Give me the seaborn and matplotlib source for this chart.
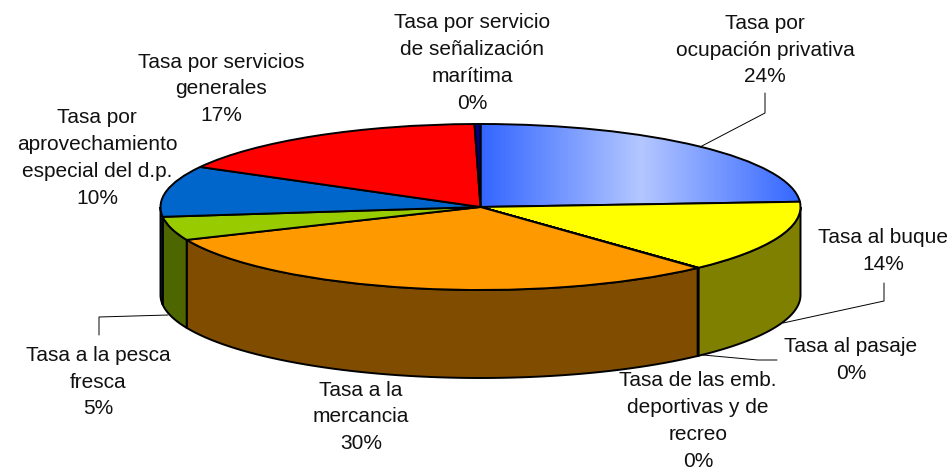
import numpy as np
import matplotlib
matplotlib.use("Agg")
import matplotlib.pyplot as plt
from matplotlib.colors import LinearSegmentedColormap, to_rgb
from matplotlib.patches import Polygon
import seaborn as sns

sns.set_theme(style="white")
plt.rcParams['font.family'] = ['Liberation Sans', 'DejaVu Sans']

# values (the 0% slices are thin but not empty)
labels = ["Tasa por\nocupación privativa", "Tasa al buque", "Tasa al pasaje",
          "Tasa de las emb.\ndeportivas y de\nrecreo", "Tasa a la\nmercancia",
          "Tasa a la pesca\nfresca", "Tasa por\naprovechamiento\nespecial del d.p.",
          "Tasa por servicios\ngenerales", "Tasa por servicio\nde señalización\nmarítima"]
values = [24.0, 14.1, 0.02, 0.03, 30.4, 4.6, 9.9, 16.7, 0.3]
percents = ["24%", "14%", "0%", "0%", "30%", "5%", "10%", "17%", "0%"]
colors = ["#3366FF", "#FFFF00", "#FFFFFF", "#000000", "#FF9900", "#99CC00", "#0066CC", "#FF0000", "#000080"]

# label centres and leader lines, in picture pixels
label_pos = [(765, 50), (883, 251), (851, 360), (698, 421), (361, 417), (98, 382), (97, 158), (221, 89), (472, 63)]
leaders = [[(700, 147), (765, 113), (765, 93)],
           [(783, 323), (884, 301), (884, 283)],
           [(703, 355), (758, 360), (777, 360)],
           [(168, 315), (99, 317), (99, 335)]]

W, H = 952, 470
cx, cy, rx, ry = 480.5, 207, 320, 83
depth = 88 / ry

fig = plt.figure(figsize=(W / 100, H / 100), dpi=100)
ax = fig.add_axes([0, 0, 1, 1])
wedges, _ = ax.pie(values, colors=sns.color_palette(colors), startangle=90, counterclock=False,
                   wedgeprops=dict(edgecolor="black", linewidth=1.4))
ax.set_aspect("auto")
xlim = (-cx / rx, (W - cx) / rx)
ylim = (-(H - cy) / ry, cy / ry)

# side wall, only the part of each slice facing the viewer
for w, c in zip(wedges, colors):
    a1, a2 = w.theta1, w.theta2
    if a1 < 0:
        a1, a2 = a1 + 360, a2 + 360
    lo, hi = max(a1, 180), min(a2, 360)
    if hi <= lo:
        continue
    t = np.radians(np.linspace(lo, hi, 60))
    top = np.column_stack([np.cos(t), np.sin(t)])
    bottom = top[::-1] - [0, depth]
    side = tuple(np.array(to_rgb(c)) / 2)
    ax.add_patch(Polygon(np.vstack([top, bottom]), closed=True, facecolor=side,
                         edgecolor="black", linewidth=1.4, zorder=0.5))

# first slice has a blue-light-blue-blue fade
fade = LinearSegmentedColormap.from_list("fade", ["#3366FF", "#B4C7FF", "#3366FF"])
wedges[0].set_facecolor("none")
im = ax.imshow(np.linspace(0, 1, 256)[None, :], cmap=fade, extent=(0, 1, -1, 1), aspect="auto", zorder=0.8)
im.set_clip_path(wedges[0])
for w in wedges:
    w.set_zorder(1)

ax.set_xlim(xlim)
ax.set_ylim(ylim)
ax.axis("off")

# text and leaders are placed in pixels of the picture
to_fig = lambda p: (p[0] / W, 1 - p[1] / H)
for name, pct, pos in zip(labels, percents, label_pos):
    fx, fy = to_fig(pos)
    fig.text(fx, fy, name + "\n" + pct, ha="center", va="center", fontsize=15,
             color="#111111", linespacing=1.52)
for path in leaders:
    pts = [to_fig(p) for p in path]
    fig.add_artist(plt.Line2D([p[0] for p in pts], [p[1] for p in pts], color="black", linewidth=0.7))

fig.savefig("out.png", dpi=100)
